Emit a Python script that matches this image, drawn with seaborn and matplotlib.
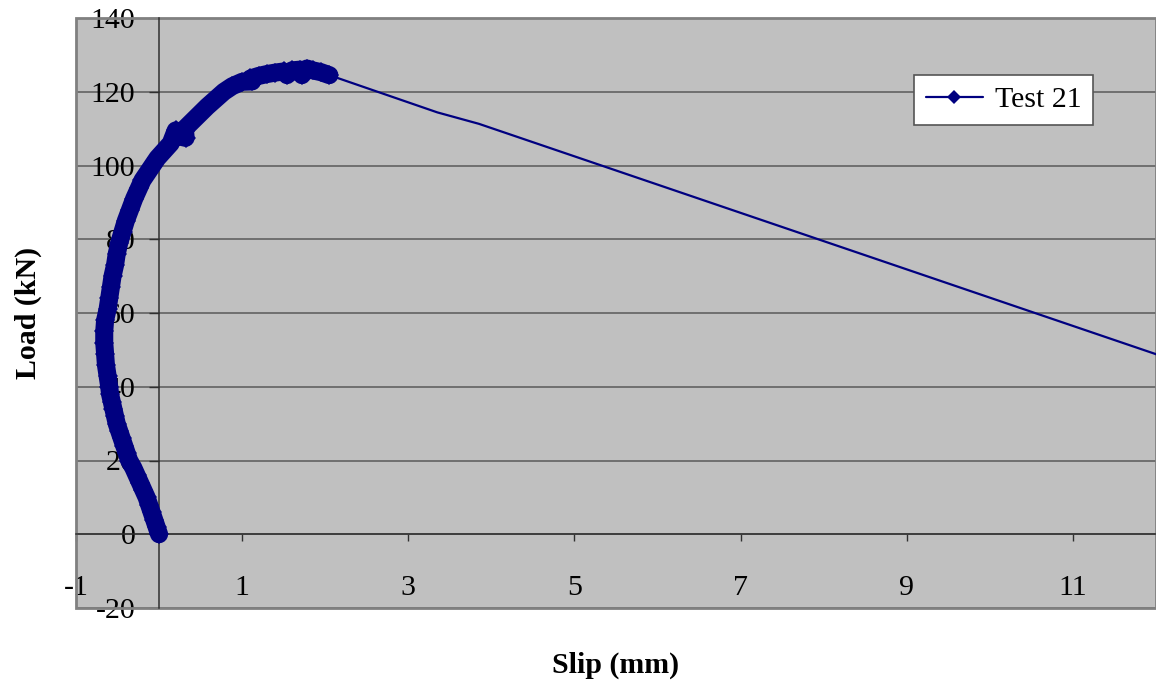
import pandas as pd
import matplotlib.pyplot as plt
import matplotlib.patches as mpatches
import seaborn as sns

# Load-slip readings, loading branch (dense, with markers)
slip_loading = [0.00, -0.03, -0.06, -0.09, -0.12, -0.15, -0.19, -0.23, -0.27, -0.31,
                -0.36, -0.39, -0.42, -0.45, -0.48, -0.51, -0.53, -0.55, -0.57, -0.59,
                -0.60, -0.62, -0.64, -0.65, -0.66, -0.66, -0.65, -0.62, -0.60, -0.58,
                -0.56, -0.53, -0.51, -0.48, -0.44, -0.40, -0.35, -0.30, -0.24, -0.20,
                -0.14, -0.08, -0.02, 0.06, 0.14, 0.20, 0.22, 0.32, 0.31, 0.40,
                0.49, 0.58, 0.68, 0.78, 0.88, 1.00, 1.12, 1.10, 1.20, 1.30,
                1.40, 1.50, 1.54, 1.60, 1.70, 1.72, 1.78, 1.85, 1.95, 2.05]
load_loading = [0.0, 2.0, 4.0, 6.0, 8.0, 10.0, 12.0, 14.0, 16.0, 18.0,
                20.0, 22.0, 24.0, 26.0, 28.0, 30.0, 32.0, 34.0, 36.0, 38.0,
                40.0, 43.0, 46.0, 49.0, 52.0, 55.0, 58.0, 61.0, 64.0, 67.0,
                70.0, 73.0, 76.0, 79.0, 82.0, 85.0, 88.0, 91.0, 94.0, 96.0,
                98.0, 100.0, 102.0, 104.0, 106.0, 109.5, 108.0, 107.5, 110.0, 112.0,
                114.0, 116.0, 118.0, 120.0, 121.5, 122.7, 122.8, 123.6, 124.3, 124.8,
                125.2, 125.5, 124.5, 125.8, 126.0, 124.5, 126.3, 125.8, 125.3, 124.5]

# Post-peak readings (line only)
slip_tail = [2.05, 3.35, 3.85, 12.5]
load_tail = [124.5, 114.4, 111.3, 45.0]

x_ticks = [-1, 1, 3, 5, 7, 9, 11]
y_ticks = [-20, 0, 20, 40, 60, 80, 100, 120, 140]

loading = pd.DataFrame({'slip': slip_loading, 'load': load_loading})
full = pd.DataFrame({'slip': slip_loading + slip_tail, 'load': load_loading + load_tail})

sns.set_style('white')
plt.rcParams['font.family'] = ['Liberation Serif', 'DejaVu Serif']
plt.rcParams['text.color'] = 'black'
fs = 21.5
navy = '#000080'

fig = plt.figure(figsize=(11.56, 6.86), dpi=100)
ax = fig.add_axes([76 / 1156, 1 - 608 / 686, 1 - 76 / 1156, (608 - 18) / 686])
ax.set_facecolor('#C0C0C0')

# thick band for the dense loading part
sns.lineplot(data=loading, x='slip', y='load', sort=False, estimator=None, ax=ax,
             color=navy, linewidth=13, solid_capstyle='round', solid_joinstyle='round',
             zorder=3, legend=False)
sns.lineplot(data=full, x='slip', y='load', sort=False, estimator=None, ax=ax,
             color=navy, linewidth=1.6, marker='D', markersize=10, markeredgewidth=0,
             markevery=list(range(len(slip_loading))), label='Test 21', zorder=4)

ax.set_xlim(-1, 12)
ax.set_ylim(-20, 140)

# axes cross at the origin like the Excel chart
ax.spines['left'].set_position(('data', 0))
ax.spines['bottom'].set_position(('data', 0))
for s in ['left', 'bottom']:
    ax.spines[s].set_color('#303030')
    ax.spines[s].set_linewidth(1.1)
ax.spines['right'].set_visible(False)
ax.spines['top'].set_visible(False)
ax.add_patch(mpatches.Rectangle((0, 0), 1, 1, transform=ax.transAxes, fill=False,
                                edgecolor='#808080', linewidth=2, clip_on=False, zorder=1))

ax.set_xticks(x_ticks)
ax.set_yticks(y_ticks)
ax.set_xticklabels([str(t) for t in x_ticks])
ax.set_yticklabels([str(t) for t in y_ticks])
ax.tick_params(axis='y', direction='out', length=7, width=1, color='#303030',
               pad=10, left=True, labelsize=fs, labelcolor='black')
ax.tick_params(axis='x', direction='out', length=5, width=1, color='#303030',
               pad=24, bottom=True, labelsize=fs, labelcolor='black')

ax.yaxis.grid(True, color='#5a5a5a', linewidth=1.1)
ax.xaxis.grid(False)
ax.set_axisbelow(True)

ax.set_xlabel('')
ax.set_ylabel('')
fig.text(616 / 1156, 1 - 665 / 686, 'Slip (mm)', fontsize=fs, fontweight='bold',
         ha='center', va='center')
fig.text(28 / 1156, 1 - 313 / 686, 'Load (kN)', fontsize=fs, fontweight='bold',
         ha='center', va='center', rotation=90)

leg = ax.legend(loc='center', bbox_to_anchor=(0.859, 0.861), fontsize=fs,
                frameon=True, fancybox=False, framealpha=1, edgecolor='#555555',
                handlelength=1.9, handletextpad=0.4, borderpad=0.4, borderaxespad=0)
leg.get_frame().set_linewidth(1.2)
leg.legend_handles[0].set_markersize(7)
for t in leg.get_texts():
    t.set_color('black')

plt.savefig('out.png', dpi=100)
